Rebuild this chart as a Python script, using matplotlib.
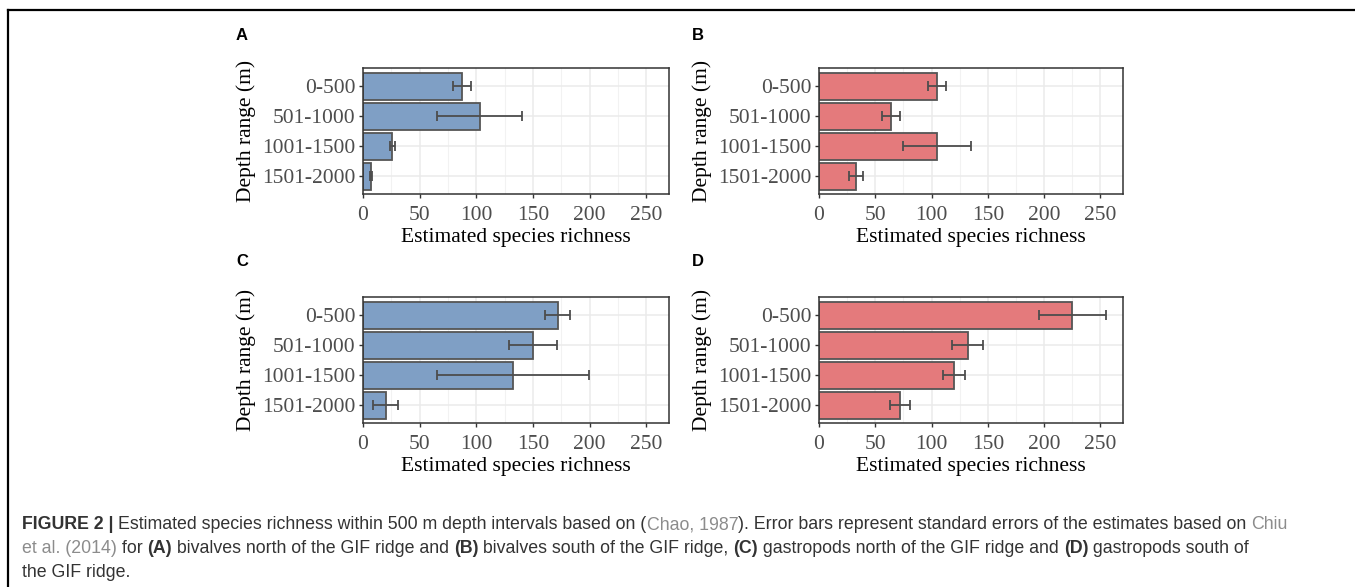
import matplotlib
matplotlib.use("Agg")
import matplotlib.pyplot as plt
from matplotlib.lines import Line2D
import numpy as np

# depth classes, top to bottom
depths = ["0-500", "501-1000", "1001-1500", "1501-2000"]

# estimated richness and standard errors per panel
rich_a = [87, 103, 26, 7]
se_a = [8, 37.5, 2, 1]
rich_b = [105, 64, 105, 33]
se_b = [8, 8, 30, 6]
rich_c = [172, 150, 132, 20]
se_c = [11, 21, 67, 11]
rich_d = [225, 132, 120, 72]
se_d = [30, 14, 10, 9]

x_ticks = [0, 50, 100, 150, 200, 250]

blue = "#7F9FC5"
red = "#E47A7C"

W, H = 1355, 587
fig = plt.figure(figsize=(W / 100, H / 100), dpi=100)

serif = ["Liberation Serif", "DejaVu Serif"]
sans = ["Liberation Sans", "DejaVu Sans"]


def px_axes(left, top, right, bottom):
    return fig.add_axes([left / W, 1 - bottom / H, (right - left) / W, (bottom - top) / H])


def panel(ax, vals, errs, color):
    y = np.arange(len(depths))
    ax.barh(y, vals, height=0.9, color=color, edgecolor="#555555", linewidth=1.3, zorder=2)
    ax.errorbar(vals, y, xerr=errs, fmt="none", ecolor="#4D4D4D", elinewidth=1.3,
                capsize=3.3, capthick=1.3, zorder=3)
    ax.set_xlim(0, 270)
    ax.set_ylim(len(depths) - 0.4, -0.6)
    ax.set_yticks(y)
    ax.set_yticklabels(depths)
    ax.set_xticks(x_ticks)
    ax.set_xticks([25, 75, 125, 175, 225], minor=True)
    ax.grid(True, which="major", color="#EBEBEB", linewidth=1.1, zorder=0)
    ax.grid(True, which="minor", axis="x", color="#F2F2F2", linewidth=0.8, zorder=0)
    ax.set_axisbelow(True)
    ax.tick_params(axis="both", which="major", length=3, width=1, color="#333333",
                   labelcolor="#4D4D4D", labelsize=15.5)
    ax.tick_params(axis="x", which="major", pad=5.5)
    ax.tick_params(axis="y", which="major", pad=2.5)
    ax.tick_params(axis="x", which="minor", length=0)
    for lab in ax.get_xticklabels() + ax.get_yticklabels():
        lab.set_family(serif)
    for s in ax.spines.values():
        s.set_color("#333333")
        s.set_linewidth(1.1)
    ax.set_xlabel("Estimated species richness", family=serif, fontsize=15.5, labelpad=2.5)
    ax.set_ylabel("Depth range (m)", family=serif, fontsize=15.5, labelpad=4.5)


ax_a = px_axes(363, 68, 669, 194)
ax_b = px_axes(819, 68, 1123, 194)
ax_c = px_axes(363, 297, 669, 423)
ax_d = px_axes(819, 297, 1123, 423)

panel(ax_a, rich_a, se_a, blue)
panel(ax_b, rich_b, se_b, red)
panel(ax_c, rich_c, se_c, blue)
panel(ax_d, rich_d, se_d, red)

for lbl, (xp, yp) in zip("ABCD", [(236, 36), (692, 36), (236, 262), (692, 262)]):
    fig.text(xp / W, 1 - yp / H, lbl, family=sans, fontweight="bold", fontsize=12,
             ha="left", va="center")

# frame lines
fig.add_artist(Line2D([8 / W, 1], [1 - 10 / H, 1 - 10 / H], color="black", linewidth=1.6))
fig.add_artist(Line2D([8 / W, 8 / W], [0, 1 - 10 / H], color="black", linewidth=1.6))

# caption as runs of text
dark = "#333333"
light = "#8C8C8C"
lines = [
    [("FIGURE 2 | ", "bold", dark),
     ("Estimated species richness within 500 m depth intervals based on (", "normal", dark),
     ("Chao, 1987", "normal", light),
     ("). Error bars represent standard errors of the estimates based on ", "normal", dark),
     ("Chiu", "normal", light)],
    [("et al. (2014)", "normal", light),
     (" for ", "normal", dark), ("(A)", "bold", dark),
     (" bivalves north of the GIF ridge and ", "normal", dark), ("(B)", "bold", dark),
     (" bivalves south of the GIF ridge, ", "normal", dark), ("(C)", "bold", dark),
     (" gastropods north of the GIF ridge and ", "normal", dark), ("(D)", "bold", dark),
     (" gastropods south of", "normal", dark)],
    [("the GIF ridge.", "normal", dark)],
]

fig.canvas.draw()
renderer = fig.canvas.get_renderer()
for i, runs in enumerate(lines):
    x = 22
    ybase = 529 + i * 24
    for txt, wt, col in runs:
        t = fig.text(x / W, 1 - ybase / H, txt, family=sans, fontweight=wt, color=col,
                     fontsize=12.8, ha="left", va="baseline")
        bb = t.get_window_extent(renderer=renderer)
        x += bb.width

fig.savefig("out.png", dpi=100)
